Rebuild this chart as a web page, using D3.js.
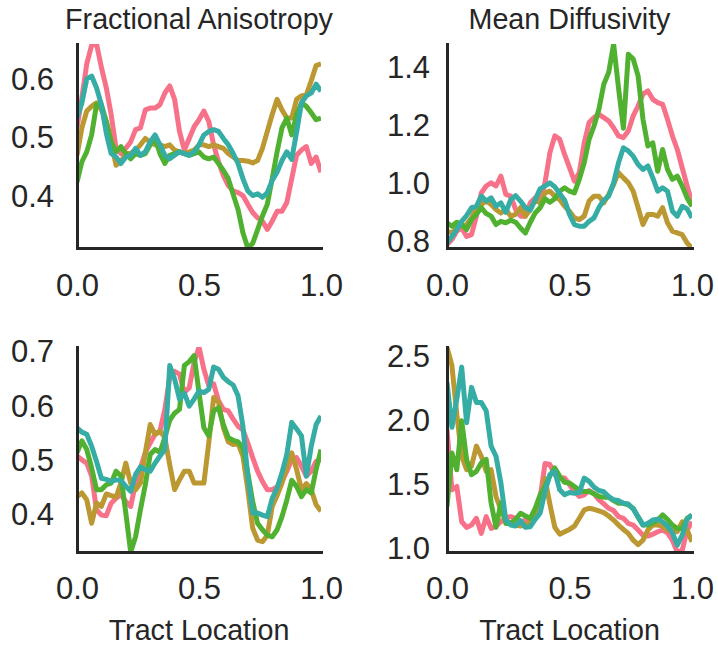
<!DOCTYPE html>
<html>
<head>
<meta charset="utf-8">
<script src="https://cdn.jsdelivr.net/npm/d3@7"></script>
<style>
  html, body { margin: 0; padding: 0; background: #ffffff; }
  svg { display: block; font-family: "Liberation Sans", Arial, Helvetica, sans-serif; }
</style>
</head>
<body>
<svg id="chart" width="718" height="648"></svg>
<script>
// Positions along the tract (fraction of tract length)
const nodes = [0, 0.02, 0.04, 0.06, 0.08, 0.1, 0.12, 0.14, 0.16, 0.18, 0.2, 0.22, 0.24, 0.26, 0.28,
  0.3, 0.32, 0.34, 0.36, 0.38, 0.4, 0.42, 0.44, 0.46, 0.48, 0.5, 0.52, 0.54, 0.56, 0.58, 0.6,
  0.62, 0.64, 0.66, 0.68, 0.7, 0.72, 0.74, 0.76, 0.78, 0.8, 0.82, 0.84, 0.86, 0.88, 0.9, 0.92,
  0.94, 0.96, 0.98, 1];

// Line colours (one per subject)
const colors = ["#f77189", "#bb9832", "#50b131", "#36ada4"];

// Panel titles and axis labels
const titles = ["Fractional Anisotropy", "Mean Diffusivity", "", ""];
const xLabels = ["", "", "Tract Location", "Tract Location"];
const xTicks = [0, 0.5, 1.0];

// Tick values for each panel's y axis
const faTopTicks = [0.4, 0.5, 0.6];
const mdTopTicks = [0.8, 1.0, 1.2, 1.4];
const faBottomTicks = [0.4, 0.5, 0.6, 0.7];
const mdBottomTicks = [1.0, 1.5, 2.0, 2.5];

// Top row, fractional anisotropy profiles
const faTopPink = [0.517,0.569,0.627,0.659,0.661,0.621,0.586,0.540,0.482,0.473,0.482,0.493,0.514,0.517,0.548,0.551,0.551,0.557,0.577,0.589,0.566,0.511,0.479,0.499,0.519,0.531,0.546,0.528,0.488,0.459,0.435,0.418,0.409,0.406,0.401,0.386,0.372,0.363,0.357,0.343,0.357,0.374,0.374,0.389,0.430,0.470,0.479,0.485,0.456,0.467,0.441];
const faTopGold = [0.470,0.517,0.546,0.554,0.560,0.548,0.528,0.493,0.453,0.459,0.473,0.473,0.479,0.488,0.499,0.493,0.488,0.488,0.485,0.488,0.479,0.476,0.473,0.476,0.479,0.488,0.488,0.485,0.488,0.485,0.482,0.473,0.467,0.461,0.461,0.460,0.457,0.461,0.482,0.511,0.540,0.566,0.548,0.534,0.534,0.566,0.572,0.574,0.598,0.624,0.627];
const faTopGreen = [0.424,0.459,0.476,0.505,0.557,0.557,0.528,0.493,0.476,0.485,0.473,0.464,0.473,0.470,0.473,0.488,0.499,0.473,0.456,0.470,0.473,0.476,0.473,0.470,0.473,0.476,0.467,0.464,0.467,0.456,0.444,0.430,0.403,0.377,0.337,0.311,0.319,0.342,0.366,0.386,0.430,0.476,0.517,0.534,0.505,0.540,0.560,0.554,0.543,0.531,0.534];
const faTopTeal = [0.534,0.560,0.601,0.606,0.586,0.557,0.508,0.473,0.467,0.456,0.467,0.470,0.482,0.470,0.476,0.493,0.505,0.488,0.470,0.464,0.470,0.476,0.473,0.470,0.476,0.488,0.505,0.511,0.514,0.511,0.499,0.488,0.473,0.456,0.430,0.409,0.401,0.404,0.398,0.406,0.427,0.441,0.461,0.476,0.463,0.510,0.560,0.572,0.577,0.592,0.580];

// Top row, mean diffusivity profiles
const mdTopPink = [0.789,0.806,0.835,0.846,0.817,0.823,0.887,0.967,0.991,1.002,0.991,1.025,0.962,0.956,0.910,0.887,0.887,0.933,0.950,0.939,1.002,1.106,1.164,1.152,1.100,1.054,1.008,1.037,1.140,1.210,1.227,1.238,1.227,1.215,1.192,1.164,1.158,1.181,1.233,1.267,1.308,1.319,1.290,1.279,1.273,1.221,1.164,1.117,1.054,0.991,0.933];
const mdTopGold = [0.835,0.829,0.846,0.852,0.858,0.881,0.921,0.927,0.939,0.927,0.910,0.898,0.910,0.887,0.893,0.916,0.887,0.910,0.944,0.933,0.967,0.973,0.956,0.944,0.921,0.904,0.881,0.875,0.887,0.939,0.956,0.956,0.933,0.962,0.996,1.037,1.019,1.002,0.973,0.916,0.858,0.893,0.893,0.887,0.916,0.864,0.835,0.829,0.823,0.794,0.777];
const mdTopGreen = [0.864,0.852,0.866,0.858,0.841,0.875,0.893,0.916,0.896,0.887,0.858,0.869,0.864,0.873,0.866,0.846,0.829,0.866,0.898,0.916,0.947,0.935,0.947,0.973,0.985,0.973,0.967,1.014,1.071,1.152,1.198,1.256,1.342,1.383,1.481,1.330,1.190,1.446,1.429,1.371,1.221,1.129,1.140,1.042,1.117,1.048,1.014,1.025,0.991,0.950,0.921];
const mdTopTeal = [0.794,0.817,0.841,0.869,0.889,0.916,0.921,0.956,0.939,0.950,0.921,0.933,0.900,0.944,0.958,0.939,0.916,0.908,0.944,0.981,0.991,1.002,0.988,0.965,0.942,0.893,0.858,0.852,0.852,0.869,0.881,0.916,0.942,0.956,1.002,1.071,1.123,1.112,1.094,1.065,1.048,1.060,1.019,0.973,0.985,0.973,0.904,0.887,0.921,0.912,0.881];

// Bottom row, fractional anisotropy profiles
const faBottomPink = [0.508,0.501,0.495,0.471,0.409,0.399,0.398,0.421,0.430,0.437,0.424,0.415,0.458,0.486,0.514,0.532,0.548,0.554,0.594,0.653,0.664,0.659,0.625,0.634,0.681,0.709,0.668,0.638,0.641,0.610,0.594,0.591,0.576,0.563,0.556,0.532,0.505,0.480,0.461,0.446,0.446,0.451,0.461,0.480,0.501,0.505,0.489,0.471,0.480,0.498,0.501];
const faBottomGold = [0.433,0.440,0.427,0.384,0.421,0.415,0.438,0.435,0.432,0.458,0.495,0.458,0.446,0.458,0.514,0.566,0.548,0.554,0.542,0.492,0.446,0.464,0.480,0.480,0.458,0.458,0.458,0.532,0.616,0.607,0.560,0.534,0.529,0.531,0.508,0.446,0.375,0.353,0.350,0.362,0.415,0.435,0.458,0.488,0.514,0.483,0.446,0.457,0.446,0.418,0.406];
const faBottomGreen = [0.514,0.536,0.520,0.486,0.446,0.446,0.455,0.458,0.480,0.471,0.403,0.331,0.359,0.409,0.455,0.511,0.520,0.515,0.542,0.574,0.587,0.594,0.675,0.682,0.693,0.625,0.560,0.545,0.591,0.597,0.566,0.542,0.537,0.534,0.523,0.477,0.424,0.384,0.372,0.362,0.359,0.372,0.396,0.427,0.463,0.452,0.433,0.446,0.440,0.483,0.520];
const faBottomTeal = [0.560,0.552,0.548,0.526,0.498,0.467,0.465,0.461,0.464,0.463,0.452,0.443,0.474,0.488,0.483,0.480,0.495,0.508,0.520,0.675,0.650,0.613,0.624,0.600,0.613,0.628,0.625,0.631,0.672,0.668,0.653,0.645,0.639,0.619,0.563,0.471,0.403,0.403,0.399,0.396,0.430,0.449,0.477,0.511,0.570,0.558,0.545,0.471,0.526,0.566,0.582];

// Bottom row, mean diffusivity profiles
const mdBottomPink = [1.934,1.462,1.488,1.213,1.169,1.187,1.240,1.122,1.253,1.161,1.179,1.213,1.247,1.253,1.240,1.206,1.226,1.247,1.279,1.397,1.667,1.659,1.580,1.554,1.554,1.502,1.449,1.410,1.423,1.457,1.431,1.384,1.352,1.318,1.300,1.253,1.240,1.200,1.187,1.148,1.108,1.101,1.116,1.135,1.148,1.127,1.069,0.977,0.990,1.148,1.213];
const mdBottomGold = [2.576,2.432,2.052,1.724,1.619,1.646,1.803,1.724,1.606,1.619,1.410,1.305,1.226,1.200,1.187,1.179,1.187,1.213,1.258,1.344,1.550,1.350,1.170,1.116,1.135,1.153,1.179,1.240,1.305,1.318,1.310,1.297,1.284,1.258,1.226,1.187,1.153,1.122,1.069,1.035,1.069,1.148,1.187,1.187,1.179,1.148,1.143,1.135,1.213,1.148,1.056];
const mdBottomGreen = [1.331,1.750,1.619,2.000,1.698,1.580,1.606,1.672,1.700,1.360,1.170,1.360,1.200,1.200,1.232,1.279,1.258,1.240,1.318,1.423,1.488,1.572,1.633,1.567,1.520,1.515,1.488,1.457,1.449,1.449,1.431,1.410,1.405,1.405,1.378,1.357,1.357,1.344,1.318,1.247,1.187,1.187,1.206,1.226,1.266,1.232,1.187,1.161,1.161,1.240,1.266];
const mdBottomTeal = [2.300,1.950,2.170,2.419,1.986,2.261,2.144,2.144,2.078,1.803,1.724,1.515,1.226,1.187,1.179,1.221,1.169,1.174,1.232,1.279,1.449,1.580,1.606,1.462,1.423,1.441,1.436,1.441,1.554,1.528,1.483,1.457,1.447,1.410,1.384,1.378,1.357,1.352,1.313,1.253,1.187,1.200,1.226,1.232,1.213,1.179,1.127,1.030,1.108,1.232,1.266];

// ---- layout ----
const textColor = "#262626";
const panels = [
  { series: [faTopPink, faTopGold, faTopGreen, faTopTeal], ticks: faTopTicks, title: titles[0], xlabel: xLabels[0],
    left: 77, top: 44, w: 244, h: 204, pad: 23, xPad: 26 },
  { series: [mdTopPink, mdTopGold, mdTopGreen, mdTopTeal], ticks: mdTopTicks, title: titles[1], xlabel: xLabels[1],
    left: 447, top: 44, w: 245, h: 204, pad: 17, xPad: 26 },
  { series: [faBottomPink, faBottomGold, faBottomGreen, faBottomTeal], ticks: faBottomTicks, title: titles[2], xlabel: xLabels[2],
    left: 77, top: 347, w: 244, h: 205, pad: 23, xPad: 25 },
  { series: [mdBottomPink, mdBottomGold, mdBottomGreen, mdBottomTeal], ticks: mdBottomTicks, title: titles[3], xlabel: xLabels[3],
    left: 447, top: 347, w: 245, h: 205, pad: 17, xPad: 25 }
];

const svg = d3.select("#chart");
const fmt = d3.format(".1f");

panels.forEach((p, pi) => {
  const g = svg.append("g").attr("transform", `translate(${p.left},${p.top})`);

  const x = d3.scaleLinear().domain([0, 1]).range([0, p.w]);
  const y = d3.scaleLinear().domain(d3.extent(p.series.flat())).range([p.h, 0]);

  const clipId = `clip-${pi}`;
  g.append("clipPath").attr("id", clipId)
    .append("rect").attr("x", 0).attr("y", 0).attr("width", p.w).attr("height", p.h);

  const line = d3.line().x((d, i) => x(nodes[i])).y(d => y(d));

  g.append("g").attr("clip-path", `url(#${clipId})`)
    .selectAll("path")
    .data(p.series)
    .join("path")
    .attr("d", d => line(d))
    .attr("fill", "none")
    .attr("stroke", (d, i) => colors[i])
    .attr("stroke-width", 5)
    .attr("stroke-linejoin", "round")
    .attr("stroke-linecap", "butt");

  // y axis (left spine)
  const yAxis = g.append("g")
    .call(d3.axisLeft(y).tickValues(p.ticks).tickFormat(fmt).tickSize(0).tickSizeOuter(0).tickPadding(p.pad));

  // x axis (bottom spine)
  const xAxis = g.append("g").attr("transform", `translate(0,${p.h})`)
    .call(d3.axisBottom(x).tickValues(xTicks).tickFormat(fmt).tickSize(0).tickSizeOuter(0).tickPadding(p.xPad));

  [yAxis, xAxis].forEach(ax => {
    ax.attr("font-family", null).attr("font-size", null);
    ax.select(".domain").attr("stroke", textColor).attr("stroke-width", 3).attr("stroke-linecap", "square");
    ax.selectAll("text").attr("fill", textColor).style("font-size", "31px");
  });

  if (p.title) {
    g.append("text")
      .attr("x", p.w / 2).attr("y", 28.5 - p.top)
      .attr("text-anchor", "middle")
      .attr("fill", textColor)
      .style("font-size", "28.7px")
      .text(p.title);
  }
  if (p.xlabel) {
    g.append("text")
      .attr("x", p.w / 2).attr("y", 640 - p.top)
      .attr("text-anchor", "middle")
      .attr("fill", textColor)
      .style("font-size", "28.7px")
      .text(p.xlabel);
  }
});
</script>
</body>
</html>
